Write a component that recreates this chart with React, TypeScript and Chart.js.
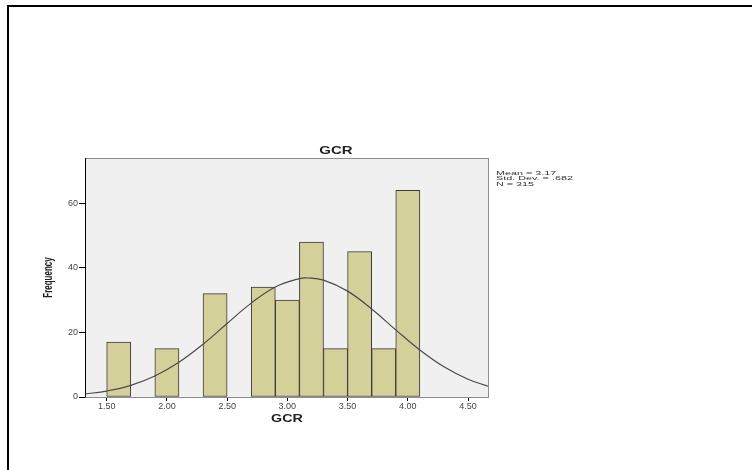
import React, { useEffect, useRef } from "react";
import { Chart, registerables } from "chart.js";

Chart.register(...registerables);

// Histogram bins (centres, width 0.2) and their frequencies
const binCenters = [1.6, 2.0, 2.4, 2.8, 3.0, 3.2, 3.4, 3.6, 3.8, 4.0];
const binCounts = [17, 15, 32, 34, 30, 48, 15, 45, 15, 64];

// Fitted normal curve
const curveX = [1.32, 1.5, 1.7, 1.9, 2.1, 2.3, 2.5, 2.7, 2.9, 3.1, 3.17, 3.3, 3.5, 3.7, 3.9, 4.1, 4.3, 4.5, 4.674];
const curveY = [0.93, 1.84, 3.61, 6.51, 10.76, 16.33, 22.76, 29.06, 34.07, 36.66, 36.85, 36.19, 32.78, 27.25, 20.78, 14.54, 9.34, 5.51, 3.24];

const xTicks = [1.5, 2.0, 2.5, 3.0, 3.5, 4.0, 4.5];
const yTicks = [0, 20, 40, 60];

const chartTitle = "GCR";
const xTitle = "GCR";
const yTitle = "Frequency";
const statsLines = ["Mean = 3.17", "Std. Dev. = .682", "N = 315"];

const SANS = "'Liberation Sans', Arial, sans-serif";

function stretchText(ctx: any, s: string, x: number, y: number, sx: number) {
  ctx.save();
  ctx.translate(x, y);
  ctx.scale(sx, 1);
  ctx.fillText(s, 0, 0);
  ctx.restore();
}

const decorPlugin = {
  id: "decor",
  beforeDatasetsDraw(chart: any) {
    const { ctx, chartArea } = chart;
    ctx.save();
    ctx.fillStyle = "#f0f0f0";
    ctx.fillRect(chartArea.left, chartArea.top, chartArea.right - chartArea.left, chartArea.bottom - chartArea.top);
    ctx.restore();
  },
  afterDraw(chart: any) {
    const { ctx, chartArea } = chart;
    ctx.save();
    // plot frame
    ctx.strokeStyle = "#8c8c8c";
    ctx.lineWidth = 1;
    ctx.strokeRect(chartArea.left + 0.5, chartArea.top + 0.5, chartArea.right - chartArea.left - 1, chartArea.bottom - chartArea.top);
    ctx.strokeStyle = "#000";
    ctx.beginPath();
    ctx.moveTo(chartArea.left + 0.5, chartArea.top);
    ctx.lineTo(chartArea.left + 0.5, chartArea.bottom + 0.5);
    ctx.stroke();

    ctx.fillStyle = "#222";
    ctx.textAlign = "center";
    ctx.textBaseline = "middle";
    ctx.font = `bold 10px ${SANS}`;
    stretchText(ctx, chartTitle, 336, chartArea.top - 7, 1.5);

    ctx.font = `bold 11px ${SANS}`;
    stretchText(ctx, xTitle, (chartArea.left + chartArea.right) / 2, 419, 1.3);

    ctx.save();
    ctx.translate(49, (chartArea.top + chartArea.bottom) / 2);
    ctx.rotate(-Math.PI / 2);
    ctx.scale(0.64, 1);
    ctx.font = `bold 12.5px ${SANS}`;
    ctx.fillText(yTitle, 0, 0);
    ctx.restore();

    ctx.textAlign = "left";
    ctx.font = `6px ${SANS}`;
    ctx.fillStyle = "#333";
    statsLines.forEach((s, i) => stretchText(ctx, s, chartArea.right + 7, 173 + i * 5.5, 1.8));
    ctx.restore();
  },
};

export default function App() {
  const ref = useRef<HTMLCanvasElement>(null);
  useEffect(() => {
    const chart = new Chart(ref.current as HTMLCanvasElement, {
      type: "bar",
      data: {
        datasets: [
          {
            type: "line",
            data: curveX.map((x, i) => ({ x, y: curveY[i] })),
            borderColor: "#4a4a4a",
            borderWidth: 1.2,
            pointRadius: 0,
            tension: 0.4,
            fill: false,
            order: 0,
          } as any,
          {
            type: "bar",
            data: binCenters.map((x, i) => ({ x, y: binCounts[i] })),
            backgroundColor: "#d4d09a",
            borderColor: "#3a3a3a",
            borderWidth: 1,
            borderSkipped: false,
            barPercentage: 1,
            categoryPercentage: 1,
            order: 1,
          } as any,
        ],
      },
      options: {
        responsive: false,
        animation: false,
        events: [],
        layout: { padding: { top: 158, left: 40, right: 263, bottom: 33 } },
        plugins: { legend: { display: false }, tooltip: { enabled: false }, title: { display: false } },
        scales: {
          x: {
            type: "linear",
            min: 1.32,
            max: 4.674,
            offset: false,
            afterBuildTicks: (s: any) => { s.ticks = xTicks.map((v) => ({ value: v })); },
            afterFit: (s: any) => { s.height = 40; },
            grid: { display: true, offset: false, drawOnChartArea: false, drawTicks: true, tickLength: 4, tickColor: "#000" },
            border: { display: false },
            ticks: {
              autoSkip: false,
              maxRotation: 0,
              padding: 0,
              color: "#444",
              font: { size: 9, family: SANS },
              callback: (v: any) => Number(v).toFixed(2),
            },
          },
          y: {
            type: "linear",
            min: 0,
            max: 74,
            afterBuildTicks: (s: any) => { s.ticks = yTicks.map((v) => ({ value: v })); },
            afterFit: (s: any) => { s.width = 45; },
            grid: { display: true, drawOnChartArea: false, drawTicks: true, tickLength: 6, tickColor: "#000" },
            border: { display: false },
            ticks: {
              padding: 1,
              color: "#444",
              font: { size: 9, family: SANS },
              callback: (v: any) => String(v),
            },
          },
        },
      } as any,
      plugins: [decorPlugin],
    });
    return () => chart.destroy();
  }, []);

  return (
    <div style={{ position: "fixed", left: 0, top: 0, width: 752, height: 470, overflow: "hidden", background: "#fff" }}>
      <div style={{ position: "absolute", left: 7, top: 5, width: 800, height: 520, border: "2px solid #000", boxSizing: "border-box" }} />
      <canvas ref={ref} width={752} height={470} style={{ position: "absolute", left: 0, top: 0, width: 752, height: 470 }} />
    </div>
  );
}
